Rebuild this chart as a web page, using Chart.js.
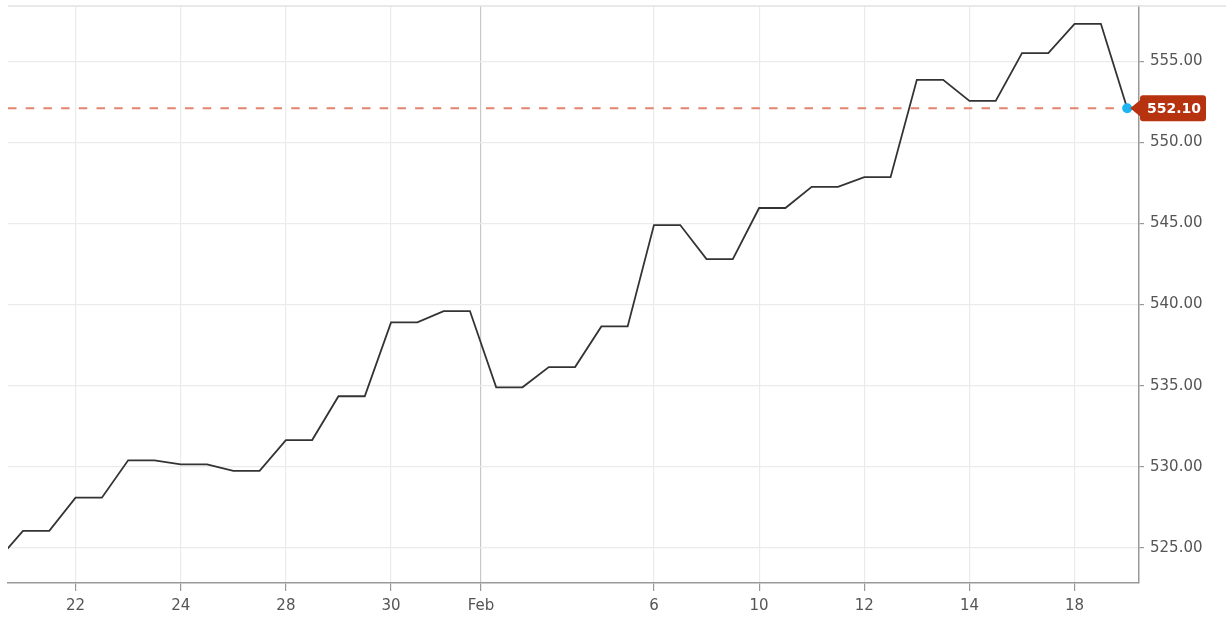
<!DOCTYPE html>
<html lang="en">
<head>
  <meta charset="UTF-8">
  <title>Price chart</title>
  <script src="https://cdn.jsdelivr.net/npm/chart.js"></script>
  <style>
    body { margin: 0; background: #fff; }
    canvas { display: block; }
  </style>
</head>
<body>
<canvas id="priceChart" width="1226" height="620"></canvas>

<script>
  // two points per session, indexed along the x axis (index -1 is just off the left edge)
  const pointIndex = [-1, 0, 1, 2, 3, 4, 5, 6, 7, 8, 9, 10, 11, 12, 13, 14, 15, 16, 17, 18, 19, 20,
                      21, 22, 23, 24, 25, 26, 27, 28, 29, 30, 31, 32, 33, 34, 35, 36, 37, 38, 39, 40, 41, 42];
  const prices = [524.2, 526.05, 526.05, 528.1, 528.1, 530.4, 530.4, 530.15, 530.15, 529.75, 529.75,
                  531.65, 531.65, 534.35, 534.35, 538.9, 538.9, 539.6, 539.6, 534.9, 534.9, 536.15,
                  536.15, 538.65, 538.65, 544.9, 544.9, 542.8, 542.8, 545.95, 545.95, 547.25, 547.25,
                  547.85, 547.85, 553.85, 553.85, 552.55, 552.55, 555.5, 555.5, 557.3, 557.3, 552.1];

  // x-axis tick labels and where they sit on the index axis
  const tickLabels = ['22', '24', '28', '30', 'Feb', '6', '10', '12', '14', '18'];
  const tickIndex = [2, 6, 10, 14, 17.42, 24, 28, 32, 36, 40];

  // y-axis ticks
  const yTicks = [525, 530, 535, 540, 545, 550, 555];

  const lastPrice = prices[prices.length - 1];

  const fontFamily = '"DejaVu Sans", Verdana, sans-serif';

  // dashed last-price line, top border and price badge
  const lastPricePlugin = {
    id: 'lastPrice',
    beforeDatasetsDraw(chart) {
      const { ctx, chartArea, scales } = chart;
      const y = scales.y.getPixelForValue(lastPrice);
      const xEnd = scales.x.getPixelForValue(pointIndex[pointIndex.length - 1]);
      ctx.save();
      ctx.strokeStyle = '#e2846e';
      ctx.lineWidth = 2;
      ctx.setLineDash([8.5, 9.2]);
      ctx.beginPath();
      ctx.moveTo(chartArea.left, y);
      ctx.lineTo(xEnd, y);
      ctx.stroke();
      ctx.restore();
    },
    afterDraw(chart) {
      const { ctx, chartArea, scales } = chart;
      // light border along the top
      ctx.save();
      ctx.strokeStyle = '#e2e2e2';
      ctx.lineWidth = 1.5;
      ctx.beginPath();
      ctx.moveTo(chartArea.left, chartArea.top);
      ctx.lineTo(chart.width, chartArea.top);
      ctx.stroke();

      // badge with the last price
      const y = scales.y.getPixelForValue(lastPrice);
      const xTip = scales.x.getPixelForValue(pointIndex[pointIndex.length - 1]) + 3;
      const left = chartArea.right + 1;
      const right = left + 66;
      const h = 26, r = 3;
      ctx.fillStyle = '#b7320f';
      ctx.beginPath();
      ctx.moveTo(xTip, y);
      ctx.lineTo(left, y - 8);
      ctx.lineTo(left, y - h / 2 + r);
      ctx.arcTo(left, y - h / 2, left + r, y - h / 2, r);
      ctx.lineTo(right - r, y - h / 2);
      ctx.arcTo(right, y - h / 2, right, y - h / 2 + r, r);
      ctx.lineTo(right, y + h / 2 - r);
      ctx.arcTo(right, y + h / 2, right - r, y + h / 2, r);
      ctx.lineTo(left + r, y + h / 2);
      ctx.arcTo(left, y + h / 2, left, y + h / 2 - r, r);
      ctx.lineTo(left, y + 8);
      ctx.closePath();
      ctx.fill();

      ctx.fillStyle = '#fff';
      ctx.font = 'bold 14px ' + fontFamily;
      ctx.textAlign = 'center';
      ctx.textBaseline = 'middle';
      ctx.fillText(lastPrice.toFixed(2), (left + right) / 2 + 1, y + 1);
      ctx.restore();
    }
  };

  const ctx = document.getElementById('priceChart').getContext('2d');

  new Chart(ctx, {
    type: 'line',
    data: {
      datasets: [{
        data: pointIndex.map((x, i) => ({ x: x, y: prices[i] })),
        borderColor: '#333333',
        borderWidth: 1.8,
        tension: 0,
        clip: 0,
        pointRadius: c => (c.dataIndex === prices.length - 1 ? 5 : 0),
        pointBackgroundColor: '#1eb4f3',
        pointBorderWidth: 0,
        pointHoverRadius: 0
      }]
    },
    options: {
      responsive: false,
      animation: false,
      events: [],
      layout: { padding: { left: 8, top: 6, right: 0, bottom: 0 } },
      plugins: {
        legend: { display: false },
        tooltip: { enabled: false }
      },
      scales: {
        x: {
          type: 'linear',
          position: 'bottom',
          min: -0.57,
          max: 42.45,
          afterBuildTicks: axis => { axis.ticks = tickIndex.map(v => ({ value: v })); },
          afterFit: axis => {
            axis.height = 37;
            axis.paddingLeft = 0;
            axis.paddingRight = 0;
          },
          ticks: {
            callback: (v, i) => tickLabels[i],
            autoSkip: false,
            maxRotation: 0,
            color: '#555',
            padding: 6,
            font: { size: 15, family: fontFamily }
          },
          grid: {
            color: c => (c.tick && c.tick.value === tickIndex[4] ? '#c8c8c8' : '#ebebeb'),
            tickColor: '#999',
            tickLength: 8,
            lineWidth: 1.2
          },
          border: { color: '#999', width: 1.5 }
        },
        y: {
          type: 'linear',
          position: 'right',
          min: 522.84,
          max: 558.4,
          afterBuildTicks: axis => { axis.ticks = yTicks.map(v => ({ value: v })); },
          afterFit: axis => {
            axis.width = 87;
            axis.paddingTop = 0;
            axis.paddingBottom = 0;
          },
          ticks: {
            callback: v => v.toFixed(2),
            color: '#555',
            padding: 6,
            font: { size: 15, family: fontFamily }
          },
          grid: {
            color: '#ebebeb',
            tickColor: '#999',
            tickLength: 5,
            lineWidth: 1.2
          },
          border: { color: '#999', width: 1.5 }
        }
      }
    },
    plugins: [lastPricePlugin]
  });
</script>
</body>
</html>
